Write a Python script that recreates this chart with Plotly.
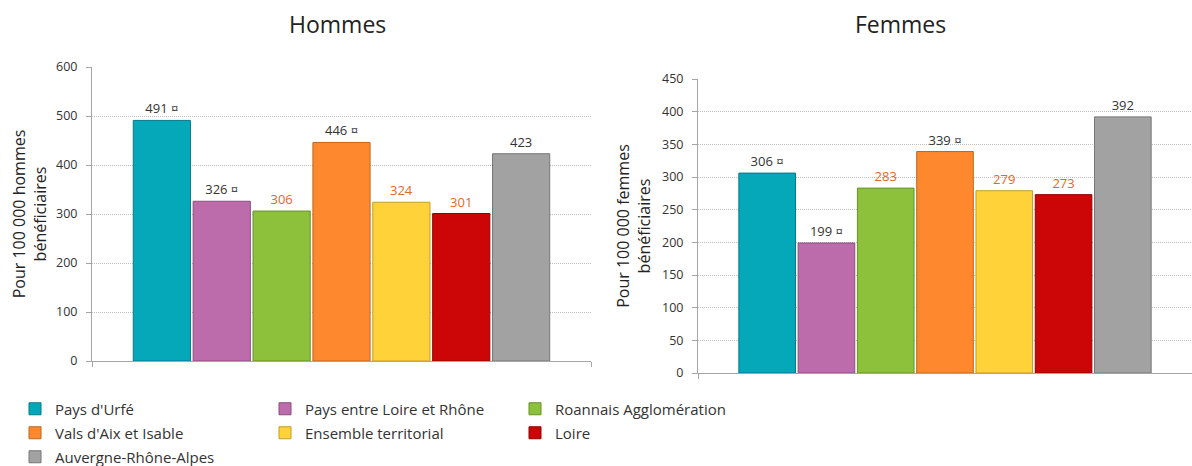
import plotly.graph_objects as go

# ---------------- data ----------------
territoires = ["Pays d'Urfé", "Pays entre Loire et Rhône", "Roannais Agglomération",
               "Vals d'Aix et Isable", "Ensemble territorial", "Loire", "Auvergne-Rhône-Alpes"]
hommes = [491, 326, 306, 446, 324, 301, 423]
femmes = [306, 199, 283, 339, 279, 273, 392]
hommes_signif = [True, True, False, True, False, False, False]
femmes_signif = [True, True, False, True, False, False, False]
panel_titles = ["Hommes", "Femmes"]
y_titles = ["Pour 100 000 hommes<br>bénéficiaires", "Pour 100 000 femmes<br>bénéficiaires"]

# ---------------- styles ----------------
bar_colors = ["#04A8B9", "#BC6CAB", "#8DC13C", "#FD882D", "#FFD23A", "#CC0606", "#A2A2A2"]
edge_colors = ["#037B88", "#8A4E7D", "#67902B", "#C0661F", "#C09E2A", "#8E0404", "#767676"]
label_colors = ["#333333", "#333333", "#E2692A", "#333333", "#E2692A", "#E2692A", "#333333"]
legend_rows = ["legend", "legend", "legend", "legend2", "legend2", "legend2", "legend3"]
FONT = "Open Sans"
W, H = 1192, 466

def lab(v, s):
    return f"{v} ¤" if s else f"{v}"

fig = go.Figure()
for i, name in enumerate(territoires):
    for k, (vals, sig, xa, ya) in enumerate([(hommes, hommes_signif, "x", "y"),
                                             (femmes, femmes_signif, "x2", "y2")]):
        fig.add_trace(go.Bar(
            x=[panel_titles[k]], y=[vals[i]], name=name,
            xaxis=xa, yaxis=ya,
            marker=dict(color=bar_colors[i], line=dict(color=edge_colors[i], width=1)),
            text=[lab(vals[i], sig[i])], textposition="outside",
            textfont=dict(family=FONT, size=13, color=label_colors[i]),
            cliponaxis=False,
            legendgroup=name, showlegend=(k == 0), legend=legend_rows[i],
        ))

grid = dict(showgrid=True, gridcolor="#BEBEBE", griddash="1px,1px", gridwidth=1,
            showline=True, linecolor="#A6A6A6", linewidth=1,
            ticks="outside", ticklen=5, tickcolor="#A6A6A6",
            tickfont=dict(family=FONT, size=12.5, color="#333333"),
            zeroline=False, ticklabelstandoff=6, automargin=False)
xcommon = dict(showline=True, linecolor="#A6A6A6", linewidth=1, showticklabels=False,
               ticks="outside", tickson="boundaries", ticklen=5, tickcolor="#A6A6A6",
               showgrid=False, zeroline=False, fixedrange=True, automargin=False)

ttl_font = dict(family=FONT, size=16, color="#222222")
fig.update_layout(
    width=W, height=H,
    margin=dict(l=0, r=0, t=0, b=0, autoexpand=False),
    paper_bgcolor="white", plot_bgcolor="white",
    barmode="group", bargap=0.16, bargroupgap=0.045,
    font=dict(family=FONT, color="#333333"),
    xaxis=dict(domain=[92 / W, 591 / W], anchor="y", **xcommon),
    yaxis=dict(domain=[1 - 361 / H, 1 - 67 / H], anchor="x", range=[0, 600], dtick=100,
               title=dict(text=y_titles[0], font=ttl_font, standoff=5), **grid),
    xaxis2=dict(domain=[698 / W, 1.0], anchor="y2", **xcommon),
    yaxis2=dict(domain=[1 - 373 / H, 1 - 79 / H], anchor="x2", range=[0, 450], dtick=50,
                title=dict(text=y_titles[1], font=ttl_font, standoff=7), **grid),
    annotations=[
        dict(text=panel_titles[0], x=337 / W, y=1 - 24 / H, xref="paper", yref="paper",
             xanchor="center", yanchor="middle",
             showarrow=False, font=dict(family=FONT, size=23, color="#222222")),
        dict(text=panel_titles[1], x=900 / W, y=1 - 24 / H, xref="paper", yref="paper",
             xanchor="center", yanchor="middle",
             showarrow=False, font=dict(family=FONT, size=23, color="#222222")),
    ],
)

leg_common = dict(orientation="h", xanchor="left", yanchor="middle", entrywidth=205,
                  entrywidthmode="pixels", font=dict(family=FONT, size=15, color="#333333"),
                  bgcolor="rgba(0,0,0,0)", borderwidth=0, tracegroupgap=0, itemclick=False)
fig.update_layout(
    legend=dict(x=15 / W, y=1 - 409 / H, **leg_common),
    legend2=dict(x=15 / W, y=1 - 433 / H, **leg_common),
    legend3=dict(x=15 / W, y=1 - 457 / H, **leg_common),
)

fig.write_html("out.html", config={"displayModeBar": False},
               post_script="document.body.style.margin='0';document.body.style.overflow='hidden';")
